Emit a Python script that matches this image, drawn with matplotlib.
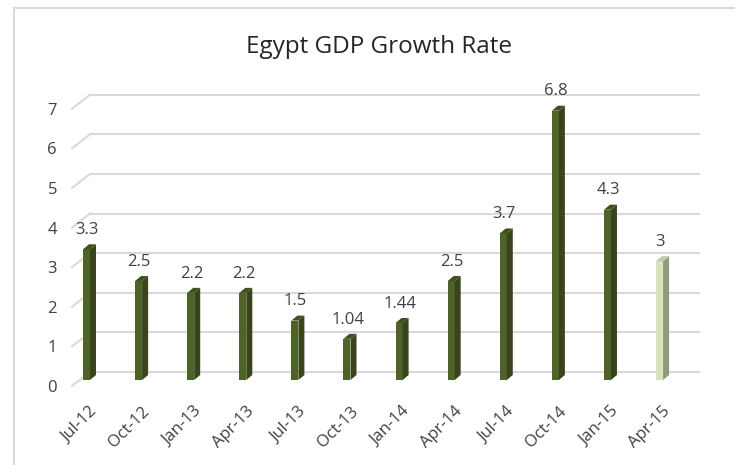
import matplotlib
matplotlib.use("Agg")
import matplotlib.pyplot as plt
from matplotlib.patches import Polygon
from matplotlib.lines import Line2D
from matplotlib.transforms import ScaledTranslation

plt.rcParams['font.family'] = ['Open Sans', 'DejaVu Sans']

# Quarterly data
quarters = ["Jul-12", "Oct-12", "Jan-13", "Apr-13", "Jul-13", "Oct-13",
            "Jan-14", "Apr-14", "Jul-14", "Oct-14", "Jan-15", "Apr-15"]
growth = [3.3, 2.5, 2.2, 2.2, 1.5, 1.04, 1.44, 2.5, 3.7, 6.8, 4.3, 3]
value_labels = ["3.3", "2.5", "2.2", "2.2", "1.5", "1.04", "1.44", "2.5",
                "3.7", "6.8", "4.3", "3"]
y_ticks = [0, 1, 2, 3, 4, 5, 6, 7]

# face colours: (front, side, top)
dark = ("#4F6228", "#37441C", "#3F4F20")
light = ("#D7E4BD", "#8F9B7A", "#BFCCA2")
bar_styles = [dark] * 11 + [light]

W, H, DPI = 735, 465, 100
fig = plt.figure(figsize=(W / DPI, H / DPI), dpi=DPI)

# axes = plane in which the columns stand
ax_left, ax_right, ax_bottom, ax_h = 64, 690, H - 380, 301
ax = fig.add_axes([ax_left / W, ax_bottom / H, (ax_right - ax_left) / W, ax_h / H])
ax.set_xlim(-0.432, 11.584)
ax.set_ylim(0, 7.6)
for s in ax.spines.values():
    s.set_visible(False)
ax.patch.set_visible(False)

grid_kw = dict(color="#D9D9D9", lw=1.5, zorder=-1)

# chart frame
fig.add_artist(Line2D([14 / W, 14 / W], [0, (H - 8) / H], **grid_kw))
fig.add_artist(Line2D([14 / W, 1], [(H - 8) / H, (H - 8) / H], **grid_kw))

fig.canvas.draw()
tD = ax.transData

def px(x, y):
    return tD.transform((x, y))

# 3-D gridlines: slanted floor edge + back wall line
back_dx, back_dy = 90 - 72, 14      # depth of the chart box
front_dy = -6                        # front plane sits below column plane
for v in y_ticks:
    _, yc = px(0, v)
    yf = yc + front_dy
    yb = yf + back_dy
    fig.add_artist(Line2D([72 / W, 90 / W], [yf / H, yb / H], **grid_kw))
    fig.add_artist(Line2D([90 / W, 699 / W], [yb / H, yb / H], **grid_kw))

# columns
bar_w = 7 / 52.1
side_dx, side_dy = 6, 5
x_pos = list(range(len(growth)))
bars = ax.bar(x_pos, growth, width=bar_w, color=[b[0] for b in bar_styles],
              linewidth=0, zorder=3)
for i, (v, st) in enumerate(zip(growth, bar_styles)):
    xl, y0 = px(i - bar_w / 2, 0)
    xr, y1 = px(i + bar_w / 2, v)
    side = [(xr, y0), (xr + side_dx, y0 + side_dy), (xr + side_dx, y1 + side_dy), (xr, y1)]
    top = [(xl, y1), (xr, y1), (xr + side_dx, y1 + side_dy), (xl + side_dx, y1 + side_dy)]
    fig.add_artist(Polygon(side, closed=True, transform=None, facecolor=st[1],
                           edgecolor="none", zorder=3))
    fig.add_artist(Polygon(top, closed=True, transform=None, facecolor=st[2],
                           edgecolor="none", zorder=3))
    ax.annotate(value_labels[i], (i, v), xytext=(0.5, 11), textcoords="offset points",
                ha="center", va="baseline", fontsize=12, color="#404040")

# axis labels
ax.set_yticks(y_ticks)
ax.set_yticklabels([str(t) for t in y_ticks], fontsize=12, color="#404040")
ax.tick_params(axis="y", length=0, pad=5)
shift = ScaledTranslation(0, front_dy / DPI, fig.dpi_scale_trans)
for lab in ax.get_yticklabels():
    lab.set_transform(lab.get_transform() + shift)

ax.set_xticks(x_pos)
ax.set_xticklabels(quarters, rotation=45, ha="right", va="top",
                   rotation_mode="anchor", fontsize=12, color="#404040")
ax.tick_params(axis="x", length=0, pad=17)
xshift = ScaledTranslation(3 / DPI, 0, fig.dpi_scale_trans)
for lab in ax.get_xticklabels():
    lab.set_transform(lab.get_transform() + xshift)

fig.text(379 / W, 1 - 53 / H, "Egypt GDP Growth Rate", ha="center", va="baseline",
         fontsize=17.5, color="#262626")

fig.savefig("out.png", dpi=DPI, facecolor="white")
